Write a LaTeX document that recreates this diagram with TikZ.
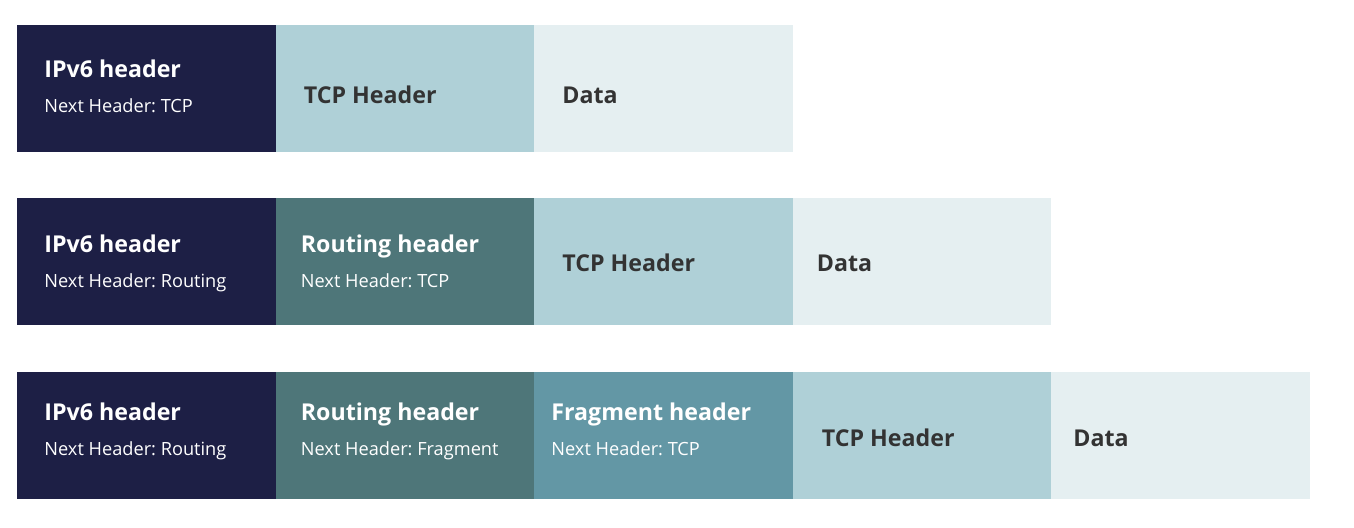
\documentclass[tikz,border=0pt]{standalone}
\usepackage{fontspec}
\setmainfont{Open Sans}
\usepackage{tikz}
\usetikzlibrary{positioning}
\frenchspacing

\definecolor{navy}{HTML}{1D1F45}
\definecolor{routing}{HTML}{4E7679}
\definecolor{fragment}{HTML}{6397A5}
\definecolor{tcp}{HTML}{AFD0D7}
\definecolor{data}{HTML}{E5EFF1}
\definecolor{ink}{HTML}{333333}

\begin{document}
\begin{tikzpicture}[x=0.5pt,y=-0.5pt,node distance=0pt,
        block/.style={rectangle,inner sep=0pt,outer sep=0pt,minimum width=129.25pt,minimum height=63.5pt,anchor=north west},
        head/.style={anchor=base west,inner sep=0pt,text=white,font=\bfseries\fontsize{11.6}{13}\selectfont},
        sub/.style={anchor=base west,inner sep=0pt,text=white,font=\fontsize{9.1}{11}\selectfont},
        lbl/.style={anchor=base west,inner sep=0pt,text=ink,font=\bfseries\fontsize{11.6}{13}\selectfont}]

        \useasboundingbox (0,0) rectangle (1354,528);

        % first packet
        \node [block,fill=navy]    (a1) at (17,25) {};
        \node [block,fill=tcp]     (a2) [right=of a1] {};
        \node [block,fill=data]    (a3) [right=of a2] {};

        % second packet
        \node [block,fill=navy]    (b1) at (17,198) {};
        \node [block,fill=routing] (b2) [right=of b1] {};
        \node [block,fill=tcp]     (b3) [right=of b2] {};
        \node [block,fill=data]    (b4) [right=of b3] {};

        % third packet
        \node [block,fill=navy]     (c1) at (17,372) {};
        \node [block,fill=routing]  (c2) [right=of c1] {};
        \node [block,fill=fragment] (c3) [right=of c2] {};
        \node [block,fill=tcp]      (c4) [right=of c3] {};
        \node [block,fill=data]     (c5) [right=of c4] {};

        % texts
        \node [head] (a1t) at ([xshift=13.5pt,yshift=-26.5pt]a1.north west) {IPv6 header};
        \node [sub]  (a1s) at ([xshift=13.5pt,yshift=-44pt]a1.north west) {Next Header: TCP};
        \node [lbl]  (a2t) at ([xshift=14pt,yshift=-39.5pt]a2.north west) {TCP Header};
        \node [lbl]  (a3t) at ([xshift=14pt,yshift=-39.5pt]a3.north west) {Data};

        \node [head] (b1t) at ([xshift=13.5pt,yshift=-27.3pt]b1.north west) {IPv6 header};
        \node [sub]  (b1s) at ([xshift=13.5pt,yshift=-44.6pt]b1.north west) {Next Header: Routing};
        \node [head] (b2t) at ([xshift=12.5pt,yshift=-27.3pt]b2.north west) {Routing header};
        \node [sub]  (b2s) at ([xshift=12.5pt,yshift=-44.6pt]b2.north west) {Next Header: TCP};
        \node [lbl]  (b3t) at ([xshift=14pt,yshift=-36.7pt]b3.north west) {TCP Header};
        \node [lbl]  (b4t) at ([xshift=12pt,yshift=-36.7pt]b4.north west) {Data};

        \node [head] (c1t) at ([xshift=13.5pt,yshift=-24.3pt]c1.north west) {IPv6 header};
        \node [sub]  (c1s) at ([xshift=13.5pt,yshift=-41.8pt]c1.north west) {Next Header: Routing};
        \node [head] (c2t) at ([xshift=12.5pt,yshift=-24.3pt]c2.north west) {Routing header};
        \node [sub]  (c2s) at ([xshift=12.5pt,yshift=-41.8pt]c2.north west) {Next Header: Fragment};
        \node [head] (c3t) at ([xshift=8.5pt,yshift=-24.3pt]c3.north west) {Fragment header};
        \node [sub]  (c3s) at ([xshift=8.5pt,yshift=-41.8pt]c3.north west) {Next Header: TCP};
        \node [lbl]  (c4t) at ([xshift=14.5pt,yshift=-37.5pt]c4.north west) {TCP Header};
        \node [lbl]  (c5t) at ([xshift=11pt,yshift=-37.5pt]c5.north west) {Data};
      \end{tikzpicture}
\end{document}
